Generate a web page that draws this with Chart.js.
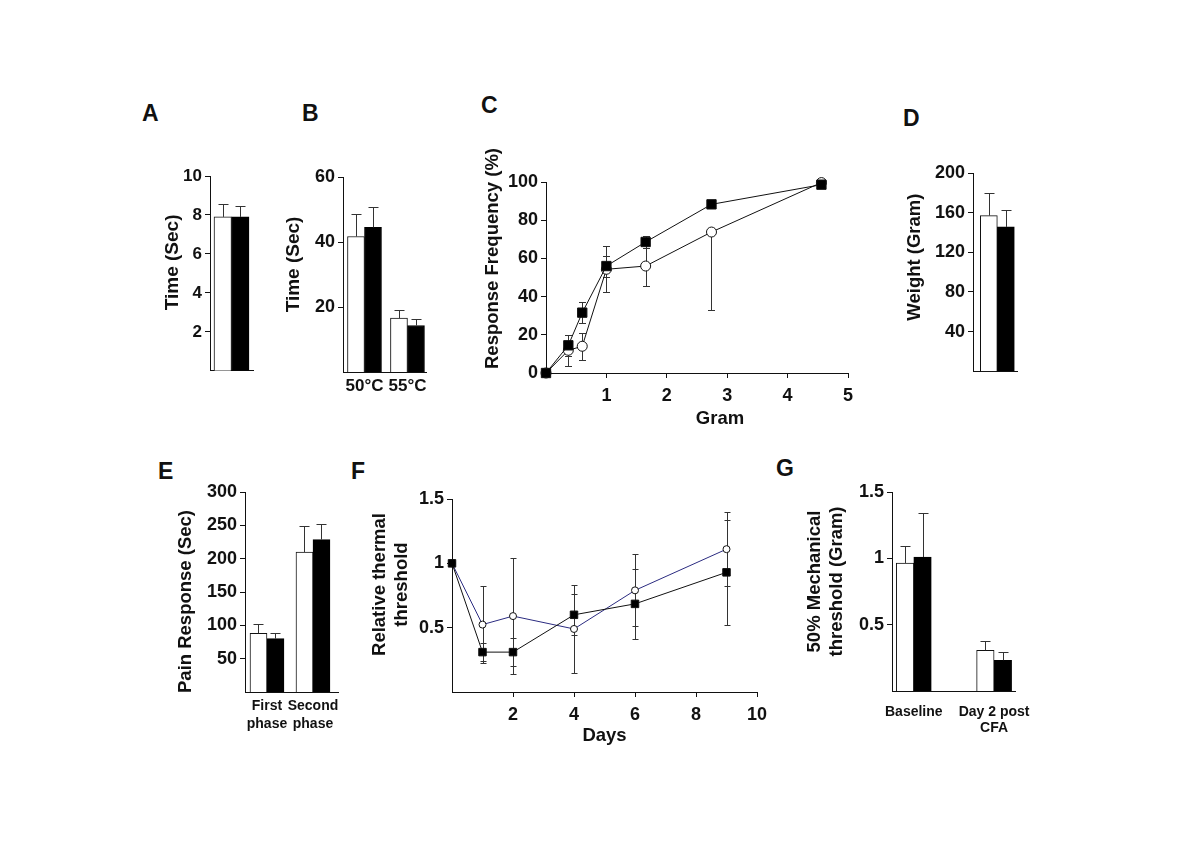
<!DOCTYPE html>
<html lang="en">
<head>
<meta charset="UTF-8">
<title>Figure 1 A-G</title>
<script src="https://cdn.jsdelivr.net/npm/chart.js"></script>
<style>
  body { margin: 0; background: #fff; }
  #page { position: relative; width: 1200px; height: 845px; background: #fff; overflow: hidden; }
  #page canvas { position: absolute; }
  .tag { position: absolute; font: bold 23px "Liberation Sans", Arial, sans-serif; line-height: 1; color: #111; }
</style>
</head>
<body>
<div id="page">
  <div class="tag" style="left:142px;top:102px">A</div>
  <div class="tag" style="left:302px;top:102px">B</div>
  <div class="tag" style="left:481px;top:94px">C</div>
  <div class="tag" style="left:903px;top:107px">D</div>
  <div class="tag" style="left:158px;top:460px">E</div>
  <div class="tag" style="left:351px;top:460px">F</div>
  <div class="tag" style="left:776px;top:457px">G</div>
  <canvas id="chartA"></canvas>
  <canvas id="chartB"></canvas>
  <canvas id="chartC"></canvas>
  <canvas id="chartD"></canvas>
  <canvas id="chartE"></canvas>
  <canvas id="chartF"></canvas>
  <canvas id="chartG"></canvas>
</div>

<script>
// ---- data (open = white bars / circles, filled = black bars / squares) ----
const aCategories = [''];
const aOpen = [7.9];
const aOpenErr = [0.65];
const aFilled = [7.9];
const aFilledErr = [0.55];

const bCategories = ['50°C', '55°C'];
const bOpen = [41.7, 16.6];
const bOpenErr = [7.0, 2.4];
const bFilled = [44.5, 14.3];
const bFilledErr = [6.3, 2.0];

const cGrams = [0, 0.37, 0.6, 1.0, 1.65, 2.74, 4.56];
const cFilled = [0, 14.5, 31.6, 56, 68.6, 88.3, 98.6];
const cFilledErr = [0, 5.5, 5.5, 5.5, 3, 1.5, 0];
const cOpen = [0, 11.9, 14, 54.3, 56, 73.8, 99.7];
const cOpenErrUp = [0, 8, 7, 12, 11, 0, 0];
const cOpenErrDown = [0, 8, 7, 12, 10.5, 41, 0];

const dCategories = [''];
const dOpen = [157];
const dOpenErr = [23];
const dFilled = [145.6];
const dFilledErr = [17.4];

const eCategories = [['First', 'phase'], ['Second', 'phase']];
const eOpen = [88, 210];
const eOpenErr = [14, 39];
const eFilled = [80, 228.6];
const eFilledErr = [9, 23];

const fDays = [0, 1, 2, 4, 6, 9];
const fFilled = [1.0, 0.31, 0.31, 0.60, 0.685, 0.93];
const fFilledErr = [0, 0.07, 0.11, 0.16, 0.27, 0.41];
const fOpen = [1.0, 0.524, 0.59, 0.49, 0.79, 1.11];
const fOpenErr = [0, 0.3, 0.45, 0.34, 0.28, 0.29];

const gCategories = ['Baseline', ['Day 2 post', 'CFA']];
const gOpen = [0.965, 0.307];
const gOpenErr = [0.13, 0.068];
const gFilled = [1.01, 0.232];
const gFilledErr = [0.33, 0.063];

// ---- drawing helpers ----
const FONT = '"Liberation Sans", Arial, Helvetica, sans-serif';
const INK = '#111';
const ERR = '#333';
const PAD_T = 45, PAD_R = 45, TITLE_LH = 22;

// error bars, drawn from the y scale of each chart
const errorBars = {
  id: 'errorBars',
  beforeDatasetsDraw(chart, args, opts) { if (opts.behind) drawErrors(chart, opts); },
  afterDatasetsDraw(chart, args, opts) { if (!opts.behind) drawErrors(chart, opts); }
};

function drawErrors(chart, opts) {
  const ctx = chart.ctx;
  const yScale = chart.scales.y;
  ctx.save();
  ctx.strokeStyle = ERR;
  ctx.lineWidth = 1;
  chart.data.datasets.forEach((ds, di) => {
    const meta = chart.getDatasetMeta(di);
    meta.data.forEach((el, i) => {
      const v = ds.data[i].y;
      const px = Math.round(el.x) + 0.5;
      const y0 = yScale.getPixelForValue(v);
      [[ds.errUp, 1], [ds.errDown, -1]].forEach(([arr, sign]) => {
        const e = arr ? arr[i] : 0;
        if (!e) return;
        const y1 = Math.round(yScale.getPixelForValue(v + sign * e)) + 0.5;
        ctx.beginPath();
        ctx.moveTo(px, y0);
        ctx.lineTo(px, y1);
        ctx.moveTo(px - opts.cap / 2, y1);
        ctx.lineTo(px + opts.cap / 2, y1);
        ctx.stroke();
      });
    });
  });
  ctx.restore();
}

// nudges an axis title away from the centre of its scale
function titleShift(axis, dx, dy) {
  return {
    id: 'titleShift' + axis,
    afterLayout(chart) {
      const s = chart.scales[axis];
      if (!s || s._shifted) return;
      const orig = s.drawTitle;
      s.drawTitle = function () {
        this.left += dx; this.right += dx; this.top += dy; this.bottom += dy;
        orig.call(this);
        this.left -= dx; this.right -= dx; this.top -= dy; this.bottom -= dy;
      };
      s._shifted = true;
    }
  };
}

function setupCanvas(id, g) {
  const cl = Math.round(g.titleX - TITLE_LH / 2);
  const ct = g.top - PAD_T;
  const w = g.right + PAD_R - cl;
  const h = g.bottom + g.xh - ct;
  const cv = document.getElementById(id);
  cv.width = w;
  cv.height = h;
  cv.style.left = cl + 'px';
  cv.style.top = ct + 'px';
  return { cv, yw: g.left - cl };
}

function boldFont(size, lh) {
  return { family: FONT, size: size, weight: 'bold', lineHeight: lh || 1.2 };
}

function yAxis(yw, o) {
  return {
    position: 'left',
    min: o.min,
    max: o.max,
    afterFit: s => { s.width = yw; },
    afterBuildTicks: s => { if (o.hideZero) s.ticks = s.ticks.filter(t => t.value !== 0); },
    ticks: { stepSize: o.step, padding: 3, color: INK, font: boldFont(o.tickSize || 18),
             callback: v => String(v) },
    grid: { drawOnChartArea: false, drawTicks: true, tickLength: 5, color: INK },
    border: { color: INK, width: 1 },
    title: { display: true, text: o.title, color: INK, padding: 0, font: boldFont(o.titleSize || 18.5, 1.2) }
  };
}

function barPanel(id, g, cats, open, openErr, filled, filledErr, yOpts) {
  const { cv, yw } = setupCanvas(id, g);
  new Chart(cv, {
    type: 'bar',
    data: {
      datasets: [
        { data: cats.map((c, i) => ({ x: i, y: open[i] })), errUp: openErr,
          backgroundColor: '#fff', borderColor: INK, borderWidth: 1, barThickness: g.bar },
        { data: cats.map((c, i) => ({ x: i, y: filled[i] })), errUp: filledErr,
          backgroundColor: '#000', borderColor: '#000', borderWidth: 1, barThickness: g.bar }
      ]
    },
    options: {
      responsive: false,
      animation: false,
      devicePixelRatio: 1,
      layout: { padding: { top: PAD_T, right: PAD_R, left: 0, bottom: 0 } },
      plugins: { legend: { display: false }, tooltip: { enabled: false }, errorBars: { cap: 10, behind: false } },
      scales: {
        x: {
          type: 'linear', offset: false, min: g.xMin, max: g.xMax,
          afterFit: s => { s.height = g.xh; },
          afterBuildTicks: s => { s.ticks = cats.map((c, i) => ({ value: i })); },
          ticks: { callback: v => cats[v], autoSkip: false, maxRotation: 0, padding: g.labelPad,
                   color: INK, font: boldFont(g.labelSize || 14, g.labelLH) },
          grid: { display: false, drawTicks: false, offset: false },
          border: { color: INK, width: 1 }
        },
        y: yAxis(yw, yOpts)
      }
    },
    plugins: [errorBars, titleShift('y', 0, g.dy)]
  });
}

function linePanel(id, g, xs, sets, xOpts, yOpts) {
  const { cv, yw } = setupCanvas(id, g);
  new Chart(cv, {
    type: 'line',
    data: {
      datasets: sets.map(s => ({
        data: xs.map((x, i) => ({ x: x, y: s.values[i] })),
        errUp: s.errUp, errDown: s.errDown,
        borderColor: s.line, borderWidth: 1, tension: 0, fill: false, clip: false,
        pointStyle: s.style, pointRadius: s.radius,
        pointBackgroundColor: s.fill, pointBorderColor: INK, pointBorderWidth: 1
      }))
    },
    options: {
      responsive: false,
      animation: false,
      devicePixelRatio: 1,
      layout: { padding: { top: PAD_T, right: PAD_R, left: 0, bottom: 0 } },
      plugins: { legend: { display: false }, tooltip: { enabled: false }, errorBars: { cap: g.cap, behind: true } },
      scales: {
        x: {
          type: 'linear', min: xOpts.min, max: xOpts.max,
          afterFit: s => { s.height = g.xh; },
          afterBuildTicks: s => { s.ticks = s.ticks.filter(t => t.value !== 0); },
          ticks: { stepSize: xOpts.step, padding: g.labelPad, color: INK, font: boldFont(18) },
          grid: { drawOnChartArea: false, drawTicks: true, tickLength: 5, color: INK },
          border: { color: INK, width: 1 },
          title: { display: true, text: xOpts.title, color: INK, padding: 0, font: boldFont(18.5, 1.2) }
        },
        y: yAxis(yw, yOpts)
      }
    },
    plugins: [errorBars, titleShift('y', 0, g.dy), titleShift('x', g.xdx || 0, 0)]
  });
}

// ---- panels ----
barPanel('chartA',
  { left: 210, right: 253, top: 176, bottom: 372, titleX: 171.7, xh: 12, dy: -11,
    xMin: -0.5, xMax: 0.5, bar: 17.5, labelPad: 4 },
  aCategories, aOpen, aOpenErr, aFilled, aFilledErr,
  { min: 0, max: 10, step: 2, hideZero: true, tickSize: 17, titleSize: 19, title: 'Time (Sec)' });

barPanel('chartB',
  { left: 343, right: 426, top: 177, bottom: 372, titleX: 292.5, xh: 40, dy: -10,
    xMin: -0.5, xMax: 1.431, bar: 17, labelPad: 4.5, labelSize: 17 },
  bCategories, bOpen, bOpenErr, bFilled, bFilledErr,
  { min: 0, max: 60, step: 20, hideZero: true, titleSize: 19, title: 'Time (Sec)' });

linePanel('chartC',
  { left: 546, right: 848, top: 182, bottom: 373, titleX: 492.5, xh: 57, dy: -19, xdx: 23,
    labelPad: 7, cap: 7 },
  cGrams,
  [
    { values: cFilled, errUp: cFilledErr, errDown: cFilledErr, line: INK, style: 'rect', radius: 6.6, fill: '#000' },
    { values: cOpen, errUp: cOpenErrUp, errDown: cOpenErrDown, line: INK, style: 'circle', radius: 5, fill: '#fff' }
  ],
  { min: 0, max: 5, step: 1, title: 'Gram' },
  { min: 0, max: 100, step: 20, hideZero: false, title: 'Response Frequency (%)' });

barPanel('chartD',
  { left: 973, right: 1017, top: 173, bottom: 373, titleX: 915, xh: 12, dy: -15,
    xMin: -0.553, xMax: 0.447, bar: 17, labelPad: 4 },
  dCategories, dOpen, dOpenErr, dFilled, dFilledErr,
  { min: 0, max: 200, step: 40, hideZero: true, title: 'Weight (Gram)' });

barPanel('chartE',
  { left: 245, right: 338, top: 492, bottom: 692, titleX: 186, xh: 50, dy: 9.5,
    xMin: -0.478, xMax: 1.544, bar: 17, labelPad: 5, labelSize: 14, labelLH: 1.3 },
  eCategories, eOpen, eOpenErr, eFilled, eFilledErr,
  { min: 0, max: 300, step: 50, hideZero: true, title: 'Pain Response (Sec)' });

linePanel('chartF',
  { left: 452, right: 757, top: 499, bottom: 692, titleX: 380, xh: 55, dy: -11,
    labelPad: 7, cap: 6 },
  fDays,
  [
    { values: fFilled, errUp: fFilledErr, errDown: fFilledErr, line: INK, style: 'rect', radius: 5.3, fill: '#000' },
    { values: fOpen, errUp: fOpenErr, errDown: fOpenErr, line: '#2b2b80', style: 'circle', radius: 3.5, fill: '#fff' }
  ],
  { min: 0, max: 10, step: 2, title: 'Days' },
  { min: 0, max: 1.5, step: 0.5, hideZero: true, title: ['Relative thermal', 'threshold'] });

barPanel('chartG',
  { left: 892, right: 1015, top: 492, bottom: 691, titleX: 815, xh: 50, dy: -10,
    xMin: -0.271, xMax: 1.26, bar: 17.5, labelPad: 13, labelSize: 14, labelLH: 1.15 },
  gCategories, gOpen, gOpenErr, gFilled, gFilledErr,
  { min: 0, max: 1.5, step: 0.5, hideZero: true, title: ['50% Mechanical', 'threshold (Gram)'] });
</script>
</body>
</html>
